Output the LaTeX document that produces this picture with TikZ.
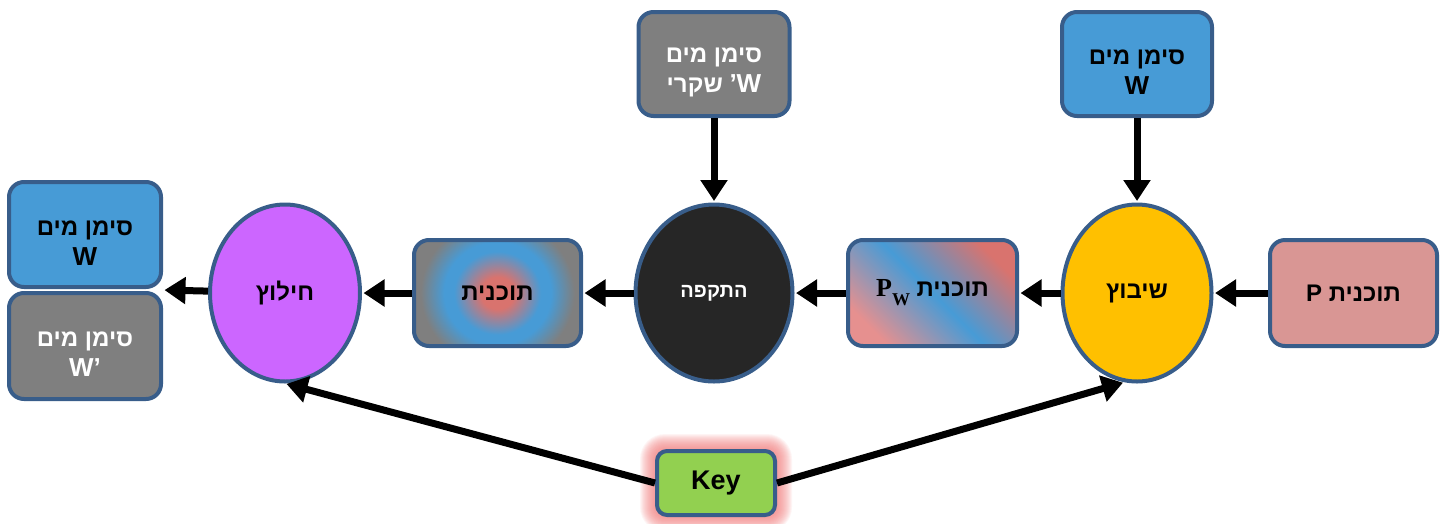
\documentclass[tikz,border=0pt]{standalone}
\usepackage{fontspec}
\setmainfont{Liberation Sans}
\newfontfamily\hebfont[Script=Hebrew]{Liberation Sans}
\newfontfamily\serifface{Liberation Serif}
\TeXXeTstate=1
\usetikzlibrary{arrows.meta,shapes.geometric,backgrounds,calc}

% Hebrew run, set right to left
\newcommand\heb[1]{{\hebfont\beginR #1\endR}}
% Latin letters a little larger than the Hebrew
\newcommand\lat[1]{{\fontsize{26}{30}\selectfont #1}}
% tall first line, keeps two-line labels a bit low in their boxes
\newcommand\toprow{\rule{0pt}{31pt}}

\definecolor{edgeblue}{HTML}{385D8A}
\definecolor{skyfill}{HTML}{479BD6}
\definecolor{grayfill}{HTML}{7F7F7F}
\definecolor{rosefill}{HTML}{D99694}
\definecolor{amber}{HTML}{FFC000}
\definecolor{violetfill}{HTML}{CC66FF}
\definecolor{coal}{HTML}{262626}
\definecolor{leaf}{HTML}{92D050}
\definecolor{glowpink}{HTML}{F07878}
\definecolor{salmon}{HTML}{D9736E}
\definecolor{lightrose}{HTML}{E6908F}

% red core, blue ring, gray rim
\pgfdeclareradialshading{ringfill}{\pgfpoint{0bp}{0bp}}{%
  color(0bp)=(salmon); color(5bp)=(salmon); color(13bp)=(skyfill);
  color(16bp)=(skyfill); color(23bp)=(grayfill); color(50bp)=(grayfill)}

\tikzset{
  box/.style={draw=edgeblue, line width=4pt, rounded corners=15pt,
    inner sep=0pt, align=center, font=\bfseries\fontsize{24}{30}\selectfont},
  oval/.style={ellipse, draw=edgeblue, line width=4pt, inner sep=0pt,
    minimum width=150pt, minimum height=177pt,
    font=\bfseries\fontsize{24}{30}\selectfont},
  arr/.style={line width=7pt, shorten >=1.5pt,
    -{Triangle[length=21pt,width=26pt]}},
}

\begin{document}
\begin{tikzpicture}[x=1pt, y=-1pt]
\useasboundingbox (0,0) rectangle (1446,523);

% watermarks
\node[box, fill=skyfill, minimum width=150pt, minimum height=104pt]
  (wmark) at (1137,64) {\toprow\heb{סימן מים}\\\lat{W}};
\node[box, fill=grayfill, text=white, minimum width=151pt, minimum height=104pt]
  (fakemark) at (714,64) {\toprow\heb{סימן מים}\\\heb{שקרי} \lat{’W}};

% pipeline
\node[box, fill=rosefill, minimum width=167pt, minimum height=106pt]
  (progP) at (1353.5,293) {P \heb{תוכנית}};
\node[oval, fill=amber, minimum width=149pt] (embed) at (1137,293) {\heb{שיבוץ}};
\node[box, shading=axis, top color=salmon, bottom color=lightrose,
  middle color=skyfill, shading angle=-45,
  minimum width=169pt, minimum height=106pt] (progPw) at (932.5,293)
  {{\serifface\bfseries\fontsize{26}{30}\selectfont P\raisebox{-9pt}{\fontsize{18}{18}\selectfont W}}\ \heb{תוכנית}};
\node[oval, fill=coal, text=white, minimum width=157pt,
  font=\bfseries\fontsize{20}{24}\selectfont] (attack) at (714,293) {\heb{התקפה}};
\node[box, fill=grayfill, minimum width=167pt, minimum height=106pt,
  path picture={\shade[shading=ringfill] (path picture bounding box.center) circle (80pt);}]
  (plan) at (497.5,293) {\heb{תוכנית}};
\node[oval, fill=violetfill] (extract) at (285,293) {\heb{חילוץ}};

% recovered watermarks
\node[box, fill=skyfill, minimum width=152pt, minimum height=105pt]
  (outtrue) at (85,234.5) {\toprow\heb{סימן מים}\\\lat{W}};
\node[box, fill=grayfill, text=white, minimum width=152pt, minimum height=106pt]
  (outfake) at (85,346) {\toprow\heb{סימן מים}\\\lat{W’}};
\coordinate (outpair) at ($(outtrue.south east)!0.5!(outfake.north east)$);

% key with soft glow
\node[box, fill=leaf, minimum width=118pt, minimum height=64pt,
  rounded corners=10pt, font=\bfseries\fontsize{27}{30}\selectfont]
  (key) at (716,483) {Key};
\begin{pgfonlayer}{background}
  \foreach \g in {1,...,15}
    \fill[glowpink, opacity=0.08, rounded corners={10pt+\g pt}]
      ($(key.south west)+(-\g,\g)$) rectangle ($(key.north east)+(\g,-\g)$);
\end{pgfonlayer}

% connectors
\draw[arr] (progP) -- (embed);
\draw[arr] (embed) -- (progPw);
\draw[arr] (progPw) -- (attack);
\draw[arr] (attack) -- (plan);
\draw[arr] (plan) -- (extract);
\draw[arr] (extract) -- (outpair);
\draw[arr] (wmark) -- (embed);
\draw[arr] (fakemark) -- (attack);
\draw[arr] (key.west) -- (extract.south);
\draw[arr] (key.east) -- (embed.-98);
\end{tikzpicture}
\end{document}
